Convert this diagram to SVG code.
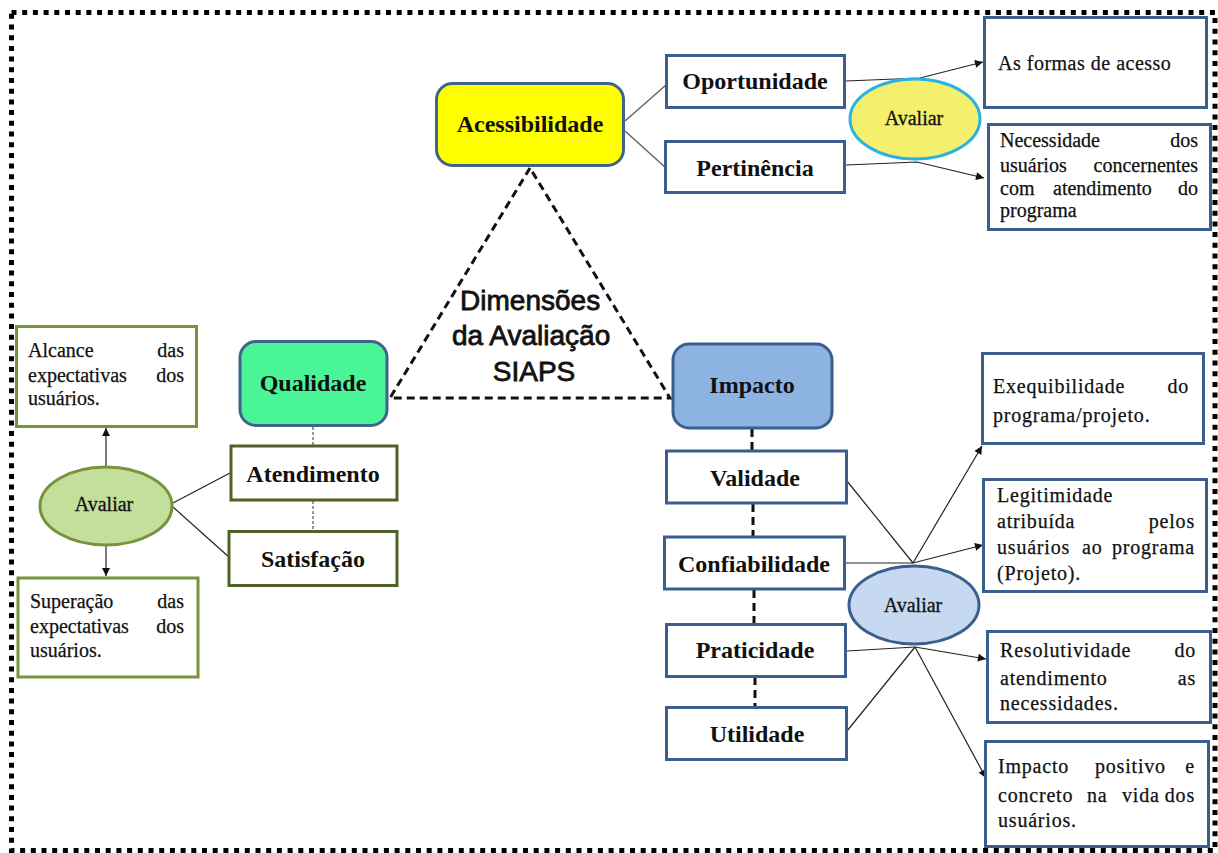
<svg xmlns="http://www.w3.org/2000/svg" width="1218" height="853" viewBox="0 0 1218 853">
<style>
.lbl{font-family:"Liberation Serif","Times New Roman",serif;font-size:24px;font-weight:bold;fill:#111;text-anchor:middle}
.av{font-family:"Liberation Serif","Times New Roman",serif;font-size:20px;fill:#111;text-anchor:middle;stroke:#111;stroke-width:0.3}
.tx{font-family:"Liberation Serif","Times New Roman",serif;font-size:20px;fill:#111;stroke:#111;stroke-width:0.25}
.sp{letter-spacing:0.8px}
.e{text-anchor:end}
.bbox{fill:#fff;stroke:#3a5f8e;stroke-width:3}
.gbox{fill:#fff;stroke:#4f6228;stroke-width:3}
.obox{fill:#fff;stroke:#77933c;stroke-width:3}
.thin{fill:none;stroke:#222;stroke-width:1.2}
.gray{fill:none;stroke:#666;stroke-width:1.5}
.dash{fill:none;stroke:#111;stroke-width:3;stroke-dasharray:8 5}
.gdot{fill:none;stroke:#777;stroke-width:1.5;stroke-dasharray:3 2}
</style>
<defs>
<marker id="ah" viewBox="0 0 10 10" refX="10" refY="5" markerWidth="9" markerHeight="8" markerUnits="userSpaceOnUse" orient="auto">
<path d="M0,0 L10,5 L0,10 z" fill="#111"/>
</marker>
</defs>
<rect width="1218" height="853" fill="#fff"/>
<rect x="11.5" y="12.5" width="1203.5" height="838" fill="none" stroke="#000" stroke-width="5" stroke-dasharray="5 5.7"/>

<g id="connectors">
<polygon class="dash" points="530,168 390,398 670,398"/>
<line class="gray" x1="625" y1="121" x2="666" y2="85"/>
<line class="gray" x1="625" y1="131" x2="666" y2="168"/>
<polyline class="thin" points="846,81 920,78 983,62" marker-end="url(#ah)"/>
<polyline class="thin" points="846,165 917,162 984,178" marker-end="url(#ah)"/>
<line class="gdot" x1="313" y1="427" x2="313" y2="445"/>
<line class="gdot" x1="313" y1="501" x2="313" y2="530"/>
<line class="thin" x1="173" y1="503" x2="230" y2="473"/>
<line class="thin" x1="173" y1="507" x2="230" y2="558"/>
<line class="thin" x1="106" y1="467" x2="106" y2="428" marker-end="url(#ah)"/>
<line class="thin" x1="106" y1="545" x2="106" y2="576" marker-end="url(#ah)"/>
<line class="dash" x1="752" y1="429" x2="752" y2="450"/>
<line class="dash" x1="753" y1="504" x2="753" y2="536"/>
<line class="dash" x1="754" y1="590" x2="754" y2="624"/>
<line class="dash" x1="755" y1="677" x2="755" y2="707"/>
<line class="thin" x1="847" y1="481" x2="913" y2="563"/>
<line class="thin" x1="845" y1="563" x2="913" y2="563"/>
<line class="thin" x1="847" y1="651" x2="915" y2="647"/>
<line class="thin" x1="847" y1="731" x2="915" y2="647"/>
<line class="thin" x1="913" y1="563" x2="982" y2="446" marker-end="url(#ah)"/>
<line class="thin" x1="913" y1="563" x2="983" y2="545" marker-end="url(#ah)"/>
<line class="thin" x1="915" y1="647" x2="986" y2="659" marker-end="url(#ah)"/>
<line class="thin" x1="915" y1="647" x2="986" y2="778" marker-end="url(#ah)"/>
</g>

<g id="dimensoes">
<text font-family="Liberation Sans, Arial, sans-serif" font-size="28" fill="#111" stroke="#111" stroke-width="0.8" text-anchor="middle">
<tspan x="534" y="310">Dimensões</tspan>
<tspan x="535" y="345">da Avaliação</tspan>
<tspan x="534" y="381">SIAPS</tspan>
</text>
</g>

<g id="acessibilidade">
<rect x="436.5" y="83.5" width="187" height="82" rx="16" fill="#ffff00" stroke="#3f6389" stroke-width="3"/>
<text class="lbl" x="530" y="132">Acessibilidade</text>
</g>
<g id="oportunidade">
<rect class="bbox" x="666.5" y="55.5" width="178" height="52"/>
<text class="lbl" x="755" y="89">Oportunidade</text>
</g>
<g id="pertinencia">
<rect class="bbox" x="665.5" y="141.5" width="179" height="51"/>
<text class="lbl" x="755" y="176">Pertinência</text>
</g>
<g id="avaliar-acesso">
<ellipse cx="915" cy="119" rx="65" ry="40" fill="#f4ef6c" stroke="#29b2e2" stroke-width="3"/>
<text class="av" x="914" y="125">Avaliar</text>
</g>
<g id="formas-acesso">
<rect class="bbox" x="984.5" y="17.5" width="222" height="90"/>
<text class="tx" x="998" y="70" letter-spacing="0.5">As formas  de acesso</text>
</g>
<g id="necessidade">
<rect class="bbox" x="988.5" y="124.5" width="222" height="105"/>
<text class="tx"><tspan x="1000" y="147">Necessidade</tspan><tspan class="e" x="1198" y="147">dos</tspan></text>
<text class="tx"><tspan x="1000" y="172">usuários</tspan><tspan class="e" x="1198" y="172">concernentes</tspan></text>
<text class="tx"><tspan x="1000" y="195">com</tspan><tspan x="1053" y="195">atendimento</tspan><tspan class="e" x="1198" y="195">do</tspan></text>
<text class="tx" x="1000" y="217">programa</text>
</g>

<g id="qualidade">
<rect x="240" y="341.5" width="147" height="84" rx="16" fill="#4af598" stroke="#3f6389" stroke-width="3"/>
<text class="lbl" x="313" y="391">Qualidade</text>
</g>
<g id="atendimento">
<rect class="gbox" x="231" y="446" width="166" height="54"/>
<text class="lbl" x="313" y="482">Atendimento</text>
</g>
<g id="satisfacao">
<rect class="gbox" x="229" y="531.5" width="168" height="54"/>
<text class="lbl" x="313" y="567">Satisfação</text>
</g>
<g id="avaliar-qualidade">
<ellipse cx="106" cy="506" rx="66" ry="39" fill="#c3df9b" stroke="#77933c" stroke-width="3"/>
<text class="av" x="104" y="511">Avaliar</text>
</g>
<g id="alcance">
<rect class="obox" x="16.5" y="326.5" width="180" height="100"/>
<text class="tx"><tspan x="28" y="357">Alcance</tspan><tspan class="e" x="184" y="357">das</tspan></text>
<text class="tx"><tspan x="28" y="382">expectativas</tspan><tspan class="e" x="184" y="382">dos</tspan></text>
<text class="tx" x="28" y="405">usuários.</text>
</g>
<g id="superacao">
<rect class="obox" x="18" y="578" width="180" height="99"/>
<text class="tx"><tspan x="30" y="608">Superação</tspan><tspan class="e" x="184" y="608">das</tspan></text>
<text class="tx"><tspan x="30" y="633">expectativas</tspan><tspan class="e" x="184" y="633">dos</tspan></text>
<text class="tx" x="30" y="657">usuários.</text>
</g>

<g id="impacto">
<rect x="673" y="344" width="159" height="84" rx="16" fill="#8db3e2" stroke="#3a5f8e" stroke-width="3"/>
<text class="lbl" x="752" y="393">Impacto</text>
</g>
<g id="validade">
<rect class="bbox" x="666.5" y="451" width="180" height="52"/>
<text class="lbl" x="755" y="486">Validade</text>
</g>
<g id="confiabilidade">
<rect class="bbox" x="664.5" y="537" width="180" height="52"/>
<text class="lbl" x="754" y="572">Confiabilidade</text>
</g>
<g id="praticidade">
<rect class="bbox" x="666.5" y="624.5" width="179" height="52"/>
<text class="lbl" x="755" y="658">Praticidade</text>
</g>
<g id="utilidade">
<rect class="bbox" x="666.5" y="707.5" width="180" height="52"/>
<text class="lbl" x="757" y="742">Utilidade</text>
</g>
<g id="avaliar-impacto">
<ellipse cx="914" cy="605" rx="65" ry="39" fill="#c6d9f1" stroke="#3a5f8e" stroke-width="3"/>
<text class="av" x="913" y="612">Avaliar</text>
</g>
<g id="exequibilidade">
<rect class="bbox" x="982.5" y="353.5" width="221" height="90"/>
<text class="tx sp"><tspan x="993" y="393">Exequibilidade</tspan><tspan class="e" x="1189" y="393">do</tspan></text>
<text class="tx sp" x="993" y="422">programa/projeto.</text>
</g>
<g id="legitimidade">
<rect class="bbox" x="983.5" y="479.5" width="223" height="112"/>
<text class="tx sp" x="997" y="502">Legitimidade</text>
<text class="tx sp"><tspan x="997" y="528">atribuída</tspan><tspan class="e" x="1195" y="528">pelos</tspan></text>
<text class="tx sp"><tspan x="997" y="554">usuários</tspan><tspan x="1082" y="554">ao</tspan><tspan class="e" x="1195" y="554">programa</tspan></text>
<text class="tx sp" x="997" y="580">(Projeto).</text>
</g>
<g id="resolutividade">
<rect class="bbox" x="987.5" y="631.5" width="223" height="91"/>
<text class="tx sp"><tspan x="1000" y="657">Resolutividade</tspan><tspan class="e" x="1196" y="657">do</tspan></text>
<text class="tx sp"><tspan x="1000" y="685">atendimento</tspan><tspan class="e" x="1196" y="685">as</tspan></text>
<text class="tx sp" x="1000" y="710">necessidades.</text>
</g>
<g id="impacto-positivo">
<rect class="bbox" x="985.5" y="741.5" width="223" height="105"/>
<text class="tx sp"><tspan x="998" y="773">Impacto</tspan><tspan x="1095" y="773">positivo</tspan><tspan class="e" x="1195" y="773">e</tspan></text>
<text class="tx sp"><tspan x="998" y="802">concreto</tspan><tspan x="1087" y="802">na</tspan><tspan x="1122" y="802">vida</tspan><tspan class="e" x="1195" y="802">dos</tspan></text>
<text class="tx sp" x="998" y="827">usuários.</text>
</g>
</svg>
